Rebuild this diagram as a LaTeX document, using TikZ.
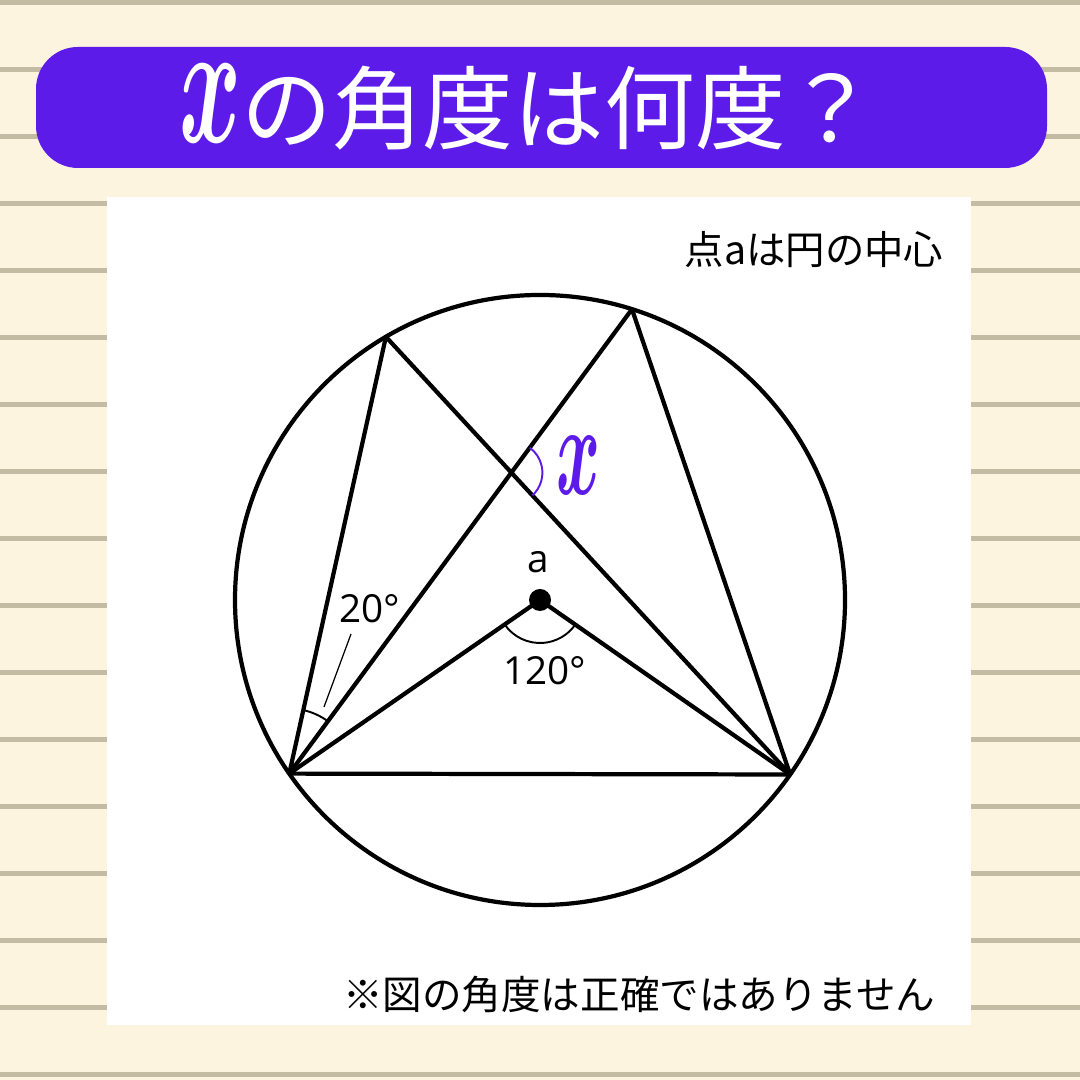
\documentclass[tikz,border=0pt]{standalone}
\usepackage{fontspec}
\setmainfont{Open Sans}
\newfontfamily\jp{Noto Sans CJK JP}
\usetikzlibrary{angles}
\definecolor{banner}{RGB}{92,27,232}
\definecolor{paper}{RGB}{253,244,224}
\definecolor{rule}{RGB}{196,187,165}
\newcommand\bigx[2]{\resizebox{#1}{#2}{\boldmath$x$}}
\begin{document}
\begin{tikzpicture}[x=0.01cm,y=0.01cm,line join=round,font=\fontsize{11pt}{13pt}\selectfont,
	geo/.style={line width=1.2pt},
	mark arc/.style={draw,line width=0.55pt}]
	\fill[paper] (0,0) rectangle (1080,1080);
	\useasboundingbox (0,0) rectangle (1080,1080);
	\foreach \k in {0,...,16}
		\fill[rule] (0,1074.5-67*\k) rectangle (1080,1079.5-67*\k);
	\fill[banner,rounded corners=0.42cm] (36,912) rectangle (1047,1033);
	\fill[white] (107,55) rectangle (971,883);
	\node[white,font=\jp\fontsize{25.8pt}{28pt}\selectfont] (title) at (528,973) {\bigx{0.62cm}{0.78cm}の角度は何度？};
	\node[anchor=east,inner sep=0pt,font=\jp\fontsize{11.2pt}{13pt}\selectfont] (note) at (944,830) {点aは円の中心};
	\node[anchor=east,inner sep=0pt,font=\jp\fontsize{11.25pt}{13pt}\selectfont] (warn) at (936,85) {※図の角度は正確ではありません};
	% circle and points
	\coordinate (a) at (540,480);
	\path (a) ++(214.7:305) coordinate (A)
		(a) ++(325.1:305) coordinate (B)
		(a) ++(120.35:305) coordinate (C)
		(a) ++(72.45:305) coordinate (D);
	\coordinate (P) at (intersection of A--D and C--B);
	\draw[geo] (a) circle (305);
	\draw[geo] (A) -- (B) -- (D) -- (A) -- (C) -- (B);
	\draw[geo] (A) -- (a) -- (B);
	\fill (a) circle (11);
	% angles
	\pic[mark arc,angle radius=0.65cm] {angle=D--A--C};
	\pic[mark arc,angle radius=0.43cm] {angle=A--a--B};
	\pic[mark arc,draw=banner,angle radius=0.31cm] {angle=B--P--D};
	\node (lbla) at (538,518) {a};
	\node (lbl120) at (545,409) {120°};
	\node (lbl20) at (370,471) {20°};
	\coordinate (t20) at (324,373);
	\coordinate (h20) at (351,446);
	\draw[line width=0.35pt] (t20) -- (h20);
	\node[banner] (lblx) at (578,615) {\bigx{0.44cm}{0.58cm}};
\end{tikzpicture}
\end{document}
